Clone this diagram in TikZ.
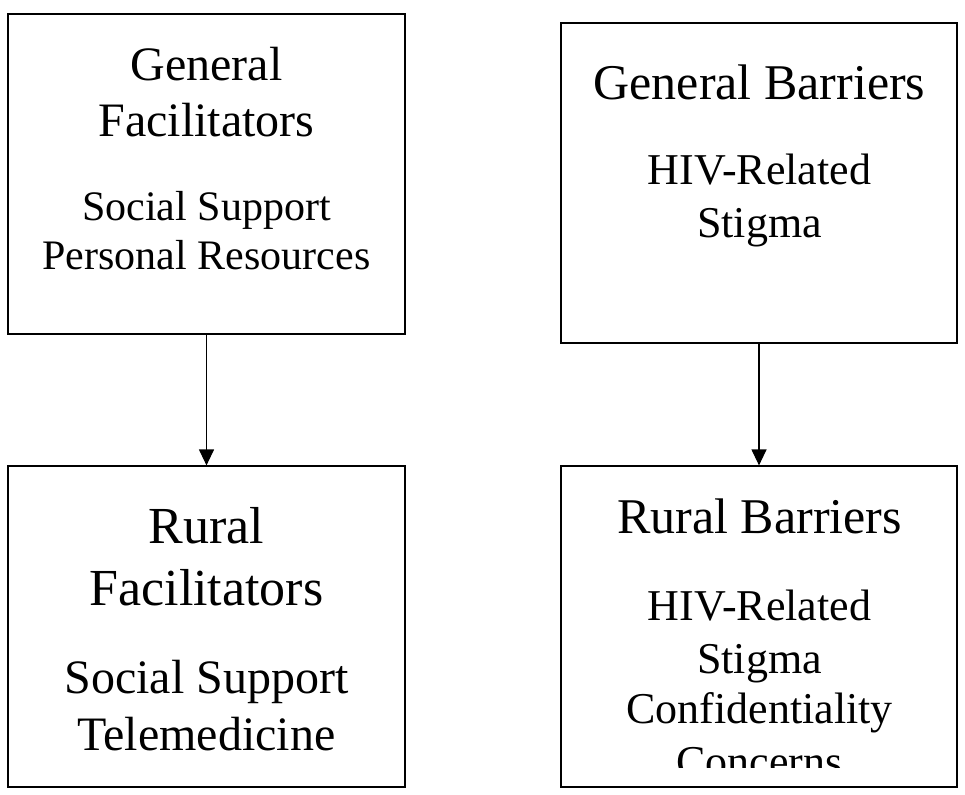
\documentclass[tikz,border=0pt]{standalone}
\usepackage{fontspec}
\setmainfont{Liberation Serif}
\usetikzlibrary{arrows.meta}
\tikzset{
  box/.style={draw=black, line width=1.2pt, rectangle, inner sep=0pt, fill=white},
  ln/.style={anchor=base, inner sep=0pt, text=black},
  conn/.style={draw=black, line width=1.2pt, -{Triangle[width=15pt,length=16pt]}},
}
\newcommand{\fsz}[1]{\fontsize{#1}{#1}\selectfont}
\begin{document}
\begin{tikzpicture}[x=1pt,y=-1pt]
\useasboundingbox[fill=white] (0,0) rectangle (965,794);
% boxes
\node[box, minimum width=397pt, minimum height=320pt] (gf) at (206.5,174) {};
\node[box, minimum width=396pt, minimum height=320pt] (gb) at (759,183) {};
\node[box, minimum width=397pt, minimum height=321pt] (rf) at (206.5,626.5) {};
\node[box, minimum width=396pt, minimum height=321pt] (rb) at (759,626.5) {};
% General Facilitators text
\node[ln, font=\fsz{48}] (gf1) at (206.5,81) {General};
\node[ln, font=\fsz{48}] (gf2) at (206.5,137) {Facilitators};
\node[ln, font=\fsz{42}] (gf3) at (206.5,220) {Social Support};
\node[ln, font=\fsz{42}] (gf4) at (206.5,269) {Personal Resources};
% General Barriers text
\node[ln, font=\fsz{50}] (gb1) at (759.5,100) {General Barriers};
\node[ln, font=\fsz{44}] (gb2) at (759.5,185) {HIV-Related};
\node[ln, font=\fsz{44}] (gb3) at (759.5,237) {Stigma};
% Rural Facilitators text
\node[ln, font=\fsz{52}] (rf1) at (206.5,543) {Rural};
\node[ln, font=\fsz{52}] (rf2) at (206.5,605) {Facilitators};
\node[ln, font=\fsz{48}] (rf3) at (206.5,693) {Social Support};
\node[ln, font=\fsz{48}] (rf4) at (206.5,750) {Telemedicine};
% Rural Barriers text
\node[ln, font=\fsz{50}] (rb1) at (759.5,533) {Rural Barriers};
\node[ln, font=\fsz{44}] (rb2) at (759.5,620) {HIV-Related};
\node[ln, font=\fsz{44}] (rb3) at (759.5,673) {Stigma};
\node[ln, font=\fsz{44}] (rb4) at (759.5,723) {Confidentiality};
\begin{scope}
\clip (561,730) rectangle (957,767);
\node[ln, font=\fsz{44}] (rb5) at (759.5,776) {Concerns};
\end{scope}
% connectors
\draw[conn] (gf.south) -- (rf.north);
\draw[conn] (gb.south) -- (rb.north);
\end{tikzpicture}
\end{document}
